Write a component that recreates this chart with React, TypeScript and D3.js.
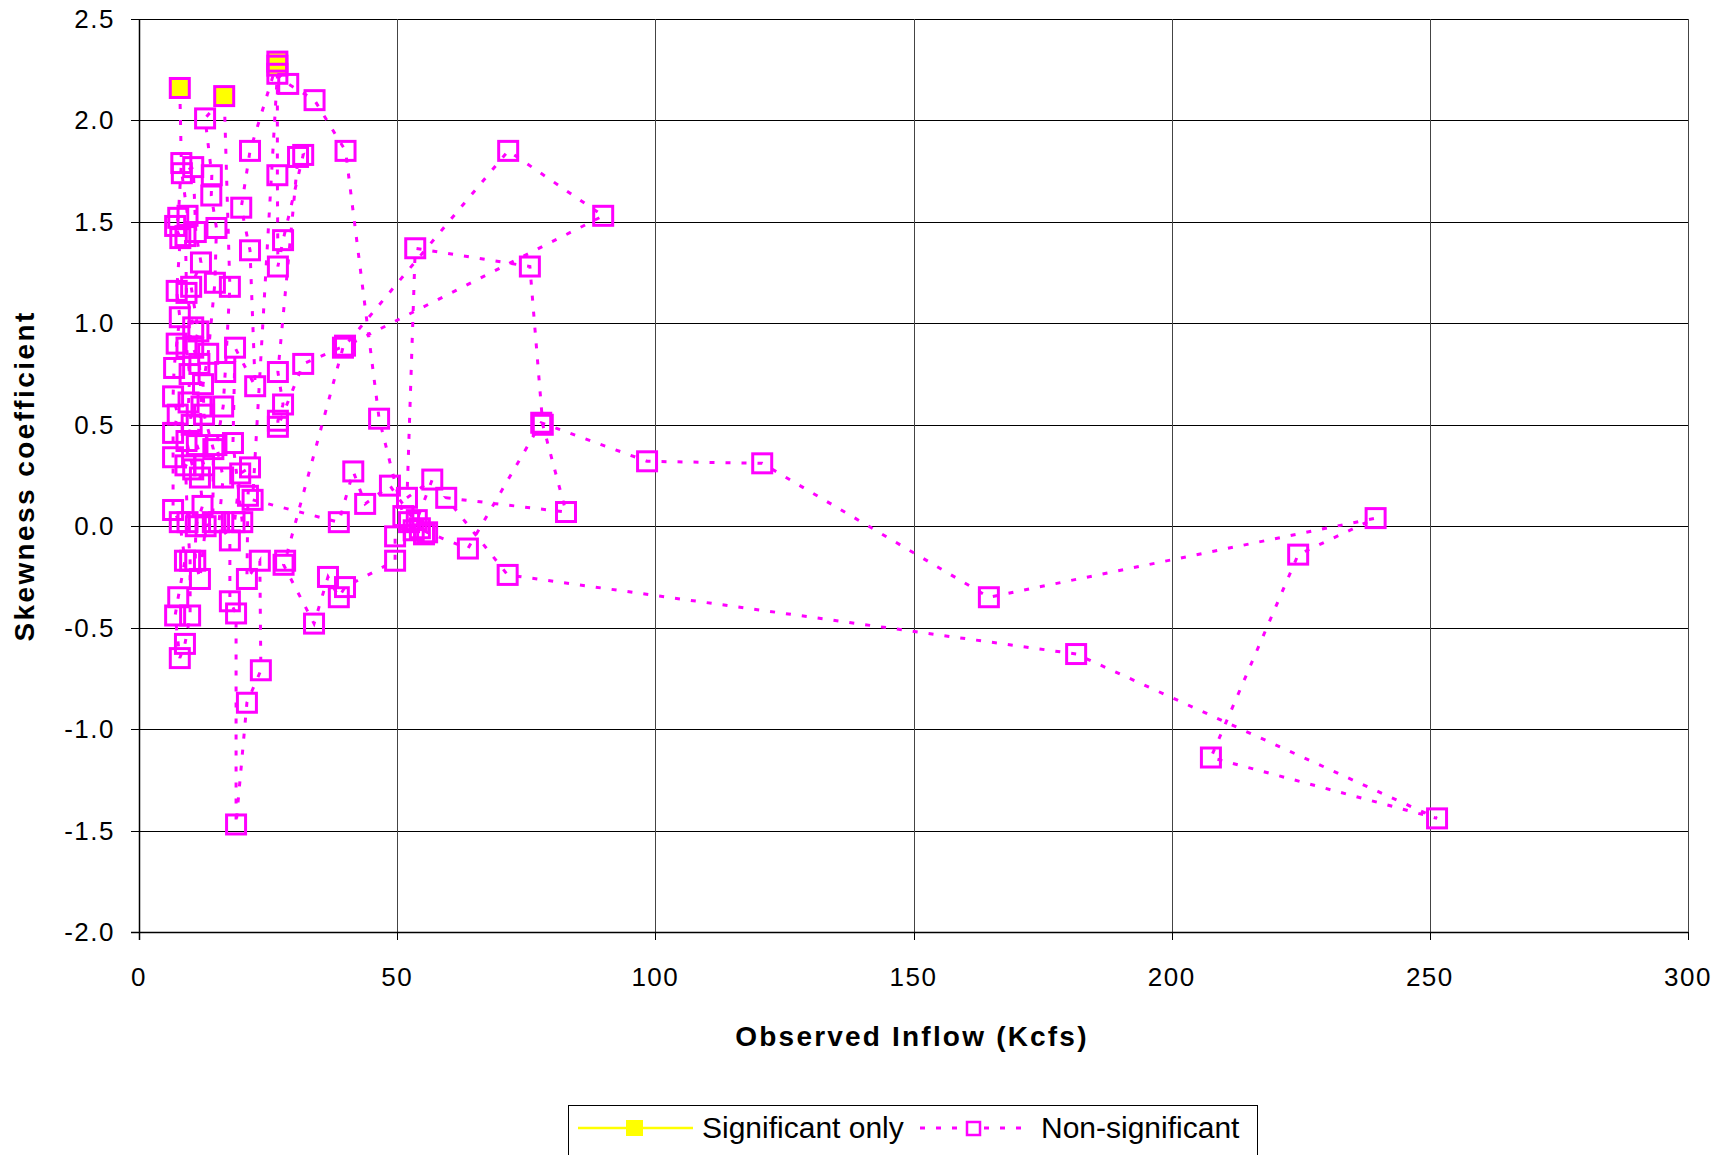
import React from "react";
import * as d3 from "d3";

// observed inflow (kcfs) and skewness, in plotted order
const flow = [
  7.9, 8.2, 7.6, 7.0, 8.0, 7.3, 7.9, 7.3, 6.8, 6.6, 7.5, 6.6, 6.6, 6.6, 7.9, 8.9, 7.6, 7.0, 7.9,
  8.9, 9.9, 9.9, 9.4, 9.0, 10.5, 9.2, 10.2, 9.6, 9.8, 9.2, 10.5, 9.2, 9.0, 9.4, 8.3,
  10.5, 11.0, 12.0, 10.1, 11.5, 10.5, 11.7, 12.1, 11.2, 12.6, 11.8, 12.3, 11.0, 10.9, 11.8,
  12.9, 14.3, 14.4, 12.6, 12.4, 13.4, 14.7, 15.0, 14.0, 14.1, 12.8,
  16.5, 17.6, 16.7, 16.3, 15.0, 16.3, 15.5, 17.6, 17.6, 18.8, 18.8, 20.9, 23.6, 23.4,
  20.9, 21.1, 21.5, 19.6, 18.5, 20.0, 18.2, 18.6, 22.5, 21.5, 19.8, 21.5,
  26.8, 26.8, 26.8, 26.9, 27.9, 31.8, 30.8, 26.9, 27.9, 26.9, 26.9, 31.8, 39.9,
  71.5, 89.9, 39.5, 28.3, 28.0, 33.9, 36.6, 38.7, 39.9, 49.6, 49.6, 52.3, 53.2, 54.4, 55.8,
  63.7, 77.9, 98.4, 120.7, 164.6, 239.5, 224.5, 207.6, 251.4, 181.5, 71.4, 59.5, 82.7,
  78.2, 75.7, 53.5, 51.9, 56.8, 53.8, 55.2, 48.6, 43.8, 41.5, 38.7, 22.0,
  26.8, 28.9, 34.0, 40.0, 46.5, 51.2,
];
const skew = [
  2.16, 1.79, 1.52, 1.48, 1.42, 1.16, 1.03, 0.90, 0.78, 0.64, 0.55, 0.46, 0.34, 0.08, 0.02, -0.17, -0.35, -0.44, -0.65,
  -0.58, -0.44, -0.17, 0.02, 0.30, 0.28, 0.42, 0.50, 0.61, 0.75, 0.88, 0.98, 1.15, 1.43, 1.53, 1.74,
  1.77, 1.45, 1.30, 1.18, 0.96, 0.88, 0.80, 0.59, 0.40, 0.30, 0.24, 0.10, 0.00, -0.17, -0.26,
  0.00, 0.02, 0.38, 0.55, 0.70, 0.85, 1.20, 1.47, 1.63, 1.73, 2.01,
  2.12, 1.18, 0.76, 0.59, 0.40, 0.24, 0.02, -0.07, -0.37, -0.43, -1.47, -0.87, -0.71, -0.17,
  -0.26, 0.15, 0.29, 0.26, 0.02, 0.02, 0.41, 0.88, 0.69, 1.36, 1.57, 1.85,
  2.29, 2.27, 1.73, 1.28, 1.41, 1.83, 1.82, 0.76, 0.60, 0.52, 0.49, 0.80, 0.89,
  1.85, 1.53, 0.88, -0.17, -0.19, -0.48, -0.25, -0.35, -0.30, -0.17, -0.05, 0.02, -0.02, -0.01, -0.03,
  -0.11, 0.51, 0.32, 0.31, -0.35, 0.04, -0.14, -1.14, -1.44, -0.63, -0.24, 0.14, 0.07,
  0.50, 1.28, 1.37, 0.14, 0.23, 0.03, -0.04, 0.20, 0.11, 0.27, 0.02, 0.13,
  2.23, 2.18, 2.10, 1.85, 0.53, 0.05,
];

// significant-only points
const sigFlow = [7.9, 16.5, 26.8, 26.8];
const sigSkew = [2.16, 2.12, 2.29, 2.27];

const xTicks = [0, 50, 100, 150, 200, 250, 300];
const yTicks = [-2.0, -1.5, -1.0, -0.5, 0.0, 0.5, 1.0, 1.5, 2.0, 2.5];

const W = 1728;
const H = 1155;
const left = 139;
const top = 19;
const right = 1688;
const bottom = 932;
const MAGENTA = "#ff00ff";
const FONT = "'Liberation Sans', Arial, sans-serif";

export default function App() {
  const x = d3.scaleLinear().domain([0, 300]).range([left, right]);
  const y = d3.scaleLinear().domain([-2, 2.5]).range([bottom, top]);

  const pts = flow.map((f, i) => [f, skew[i]] as [number, number]);
  const line = d3.line<[number, number]>().x(d => x(d[0])).y(d => y(d[1]));
  const m = 19; // marker size

  return (
    <svg width={W} height={H} style={{ position: "absolute", left: 0, top: 0, background: "#fff" }}>
      {/* grid */}
      {yTicks.map(t => (
        <line key={"gy" + t} x1={left} x2={right} y1={Math.round(y(t)) + 0.5} y2={Math.round(y(t)) + 0.5}
          stroke="#000" strokeWidth={1} />
      ))}
      {xTicks.map(t => (
        <line key={"gx" + t} x1={Math.round(x(t)) + 0.5} x2={Math.round(x(t)) + 0.5} y1={top} y2={bottom}
          stroke="#444" strokeWidth={1} />
      ))}
      {/* axes */}
      <line x1={left + 0.5} x2={left + 0.5} y1={top} y2={bottom + 8} stroke="#000" strokeWidth={1.5} />
      <line x1={left - 8} x2={right} y1={bottom + 0.5} y2={bottom + 0.5} stroke="#000" strokeWidth={1.5} />
      {yTicks.map(t => (
        <g key={"ty" + t}>
          <line x1={left - 8} x2={left} y1={Math.round(y(t)) + 0.5} y2={Math.round(y(t)) + 0.5} stroke="#000" />
          <text x={115} y={y(t) + 9} textAnchor="end" fontFamily={FONT} fontSize={26} letterSpacing={1.5}>
            {t.toFixed(1)}
          </text>
        </g>
      ))}
      {xTicks.map(t => (
        <g key={"tx" + t}>
          <line x1={Math.round(x(t)) + 0.5} x2={Math.round(x(t)) + 0.5} y1={bottom} y2={bottom + 8} stroke="#000" />
          <text x={x(t)} y={986} textAnchor="middle" fontFamily={FONT} fontSize={26} letterSpacing={1.5}>
            {t}
          </text>
        </g>
      ))}
      <text x={912} y={1046} textAnchor="middle" fontFamily={FONT} fontSize={28} fontWeight="bold" letterSpacing={2.2}>
        Observed Inflow (Kcfs)
      </text>
      <text transform="translate(34,476) rotate(-90)" textAnchor="middle" fontFamily={FONT} fontSize={28}
        fontWeight="bold" letterSpacing={2.4}>
        Skewness coefficient
      </text>

      {/* series line */}
      <path d={line(pts) ?? ""} fill="none" stroke={MAGENTA} strokeWidth={3} strokeDasharray="5 11" />

      {/* significant markers */}
      {sigFlow.map((f, i) => (
        <rect key={"s" + i} x={x(f) - m / 2} y={y(sigSkew[i]) - m / 2} width={m} height={m} fill="#ffff00" />
      ))}
      {/* non-significant markers */}
      {pts.map((p, i) => (
        <rect key={"p" + i} x={x(p[0]) - m / 2} y={y(p[1]) - m / 2} width={m} height={m}
          fill="none" stroke={MAGENTA} strokeWidth={3} />
      ))}

      {/* legend */}
      <rect x={568.5} y={1105.5} width={689} height={60} fill="#fff" stroke="#000" strokeWidth={1} />
      <line x1={578} x2={693} y1={1128} y2={1128} stroke="#ffff00" strokeWidth={2.5} />
      <rect x={626} y={1120} width={17} height={16} fill="#ffff00" />
      <text x={702} y={1138} fontFamily={FONT} fontSize={30}>Significant only</text>
      <line x1={920} x2={1027} y1={1128} y2={1128} stroke={MAGENTA} strokeWidth={3} strokeDasharray="5 11" />
      <rect x={967} y={1122} width={13} height={13} fill="#fff" stroke={MAGENTA} strokeWidth={2.5} />
      <text x={1041} y={1138} fontFamily={FONT} fontSize={30}>Non-significant</text>
    </svg>
  );
}
